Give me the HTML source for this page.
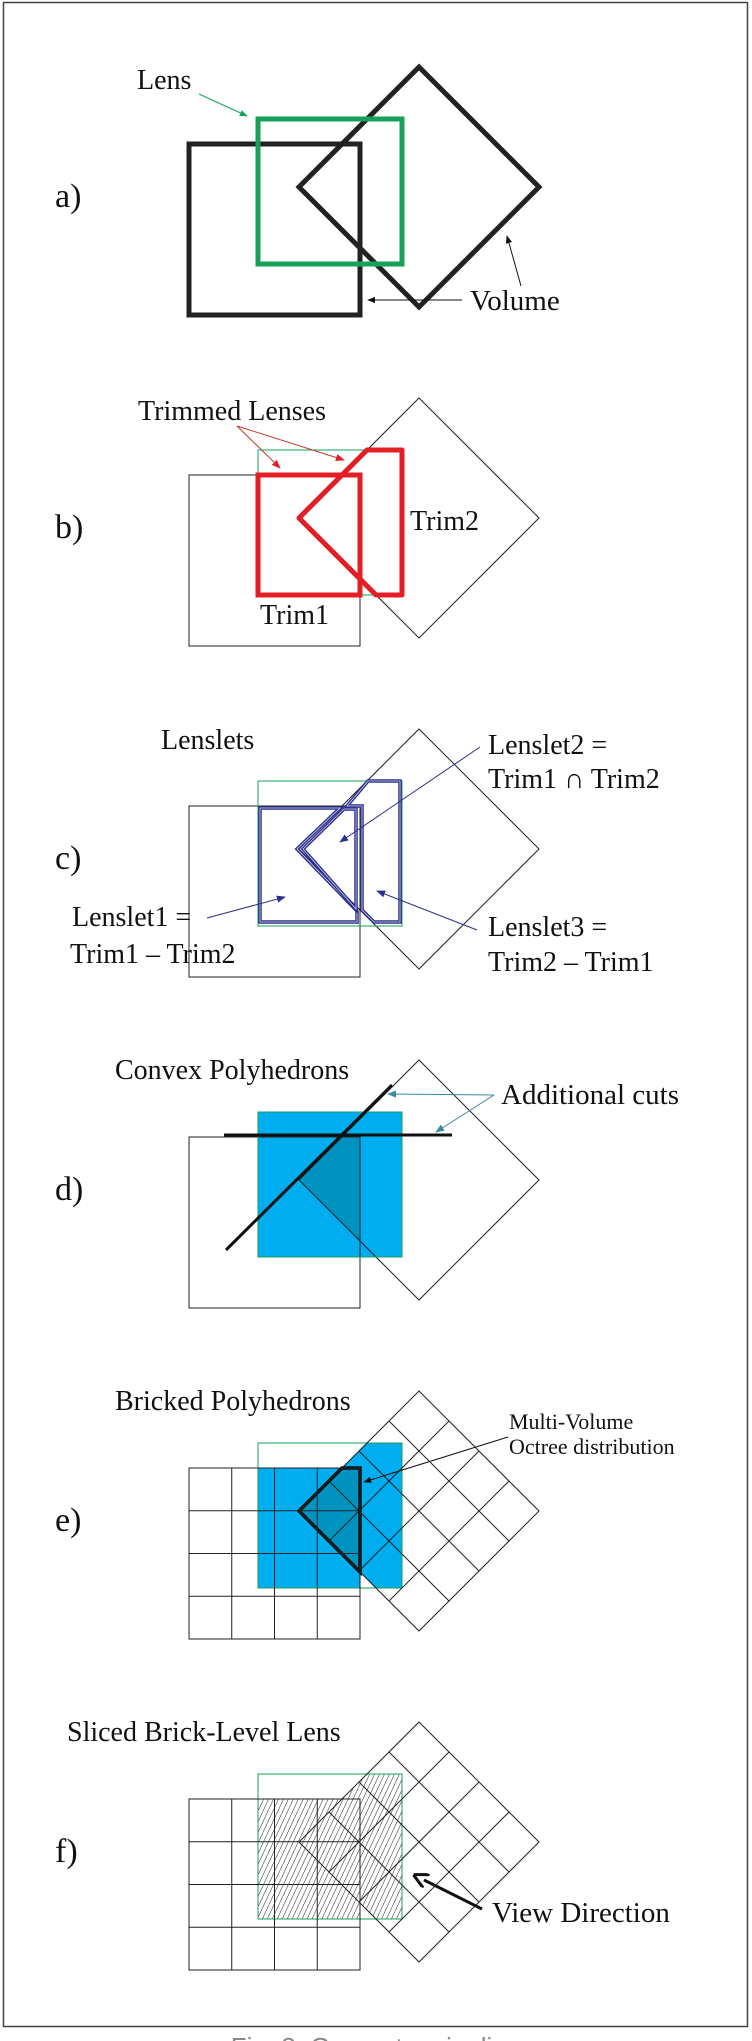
<!DOCTYPE html>
<html><head><meta charset="utf-8"><style>
html,body{margin:0;padding:0;background:#fff;}
svg{display:block;}
text{font-family:"Liberation Serif",serif;fill:#111;}
</style></head><body>
<svg id="fig" width="752" height="2041" viewBox="0 0 752 2041" xmlns="http://www.w3.org/2000/svg">
<defs>
<pattern id="hatch" patternUnits="userSpaceOnUse" width="4.5" height="10" patternTransform="rotate(25)">
<line x1="0" y1="0" x2="0" y2="10" stroke="#222" stroke-width="1"/>
</pattern>
<marker id="arrG" viewBox="0 0 10 10" refX="9" refY="5" markerWidth="8" markerHeight="8" orient="auto"><path d="M0,1L10,5L0,9z" fill="#16a05a"/></marker>
<marker id="arrK" viewBox="0 0 10 10" refX="9" refY="5" markerWidth="8" markerHeight="8" orient="auto"><path d="M0,1L10,5L0,9z" fill="#111"/></marker>
<marker id="arrR" viewBox="0 0 10 10" refX="9" refY="5" markerWidth="9" markerHeight="9" orient="auto"><path d="M0,1L10,5L0,9z" fill="#e31e24"/></marker>
<marker id="arrN" viewBox="0 0 10 10" refX="9" refY="5" markerWidth="9" markerHeight="9" orient="auto"><path d="M0,1L10,5L0,9z" fill="#2b2f8c"/></marker>
<marker id="arrT" viewBox="0 0 10 10" refX="9" refY="5" markerWidth="9" markerHeight="9" orient="auto"><path d="M0,1L10,5L0,9z" fill="#3a8aa0"/></marker>
<marker id="arrV" viewBox="0 0 10 10" refX="2" refY="5" markerWidth="5" markerHeight="5" orient="auto"><path d="M0,0L10,5L0,10" fill="none" stroke="#111" stroke-width="2"/></marker>
</defs>
<rect x="3.5" y="2.5" width="744" height="2024" fill="none" stroke="#444" stroke-width="1.5"/>
<g id="g"></g>
<text x="376" y="2056" text-anchor="middle" style="font-family:'Liberation Sans',sans-serif;font-size:26px;fill:#888">Fig. 3: Geometry pipeline</text>
</svg>
<script>
const NS='http://www.w3.org/2000/svg';
const G=document.getElementById('g');
const panelTops=[144,475,806,1137,1468,1799];
const panelLabels=['a)','b)','c)','d)','e)','f)'];
function mk(tag,attrs,parent){const e=document.createElementNS(NS,tag);for(const k in attrs)e.setAttribute(k,attrs[k]);(parent||G).appendChild(e);return e;}
function txt(s,x,y,size,name,anchor){const t=mk('text',{x:x,y:y,'font-size':size,'text-anchor':anchor||'start'});t.textContent=s;


return t;}
function geo(T){return{sq:[189,T,171,171],lens:[258,T-25,144,145],c:[419,T+43],h:120};}
function diamondPts(g){const[cx,cy]=g.c,h=g.h;return [[cx,cy-h],[cx+h,cy],[cx,cy+h],[cx-h,cy]];}
function pts(a){return a.map(p=>p.join(',')).join(' ');}
function drawSquare(g,sw,name){const e=mk('rect',{x:g.sq[0],y:g.sq[1],width:g.sq[2],height:g.sq[3],fill:'none',stroke:'#222','stroke-width':sw});

}
function drawDiamond(g,sw,name){const e=mk('polygon',{points:pts(diamondPts(g)),fill:'none',stroke:'#222','stroke-width':sw,'stroke-linejoin':'miter'});

}
function drawLens(g,sw,name){const e=mk('rect',{x:g.lens[0],y:g.lens[1],width:g.lens[2],height:g.lens[3],fill:'none',stroke:'#16a05a','stroke-width':sw});

}
function arrow(x1,y1,x2,y2,col,m,sw,name){const e=mk('line',{x1:x1,y1:y1,x2:x2,y2:y2,stroke:col,'stroke-width':sw||1,'marker-end':'url(#'+m+')'});

}
function grids(g){
 const gr=mk('g',{stroke:'#222','stroke-width':1,fill:'none'});
 
 
 const[x,y,w]=g.sq;
 for(let i=1;i<4;i++){mk('line',{x1:x+w*i/4,y1:y,x2:x+w*i/4,y2:y+w},gr);mk('line',{x1:x,y1:y+w*i/4,x2:x+w,y2:y+w*i/4},gr);}
 const[t,r,b,l]=diamondPts(g);
 const lerp=(p,q,s)=>[p[0]+(q[0]-p[0])*s,p[1]+(q[1]-p[1])*s];
 for(let i=1;i<4;i++){const s=i/4;
  let a=lerp(l,b,s),c=lerp(t,r,s);mk('line',{x1:a[0],y1:a[1],x2:c[0],y2:c[1]},gr);
  a=lerp(t,l,s);c=lerp(r,b,s);mk('line',{x1:a[0],y1:a[1],x2:c[0],y2:c[1]},gr);}
}
// labels
panelTops.forEach((T,i)=>txt(panelLabels[i],55,T+63,34,'panel-label-'+panelLabels[i][0]));

// a)
let g=geo(panelTops[0]);
drawSquare(g,5,'volume-square');drawDiamond(g,5,'volume-diamond');drawLens(g,5,'lens-box');
txt('Lens',137,89,28,'lens-label');
arrow(199,94,247,116,'#16a05a','arrG',1,'lens-arrow');
txt('Volume',470,310,29,'volume-label');
arrow(462,300,368,300,'#111','arrK',1,'volume-arrow-left');
arrow(521,286,507,236,'#111','arrK',1,'volume-arrow-up');

// b)
g=geo(panelTops[1]);
drawSquare(g,1,'volume-square-b');drawDiamond(g,1,'volume-diamond-b');drawLens(g,1,'lens-box-b');
function trim2(g){const L=g.lens,cx=g.c[0],cy=g.c[1],h=g.h,lx=cx-h;const yt=L[1],yb=L[1]+L[3],xr=L[0]+L[2];
 return [[lx+(cy-yt),yt],[xr,yt],[xr,yb],[lx+(yb-cy),yb],[lx,cy]];}
function trim1(g){const L=g.lens,S=g.sq;return [L[0],S[1],S[0]+S[2]-L[0],L[1]+L[3]-S[1]];}
let t1=trim1(g);
let e=mk('rect',{x:t1[0],y:t1[1],width:t1[2],height:t1[3],fill:'none',stroke:'#e31e24','stroke-width':5});


e=mk('polygon',{points:pts(trim2(g)),fill:'none',stroke:'#e31e24','stroke-width':5,'stroke-linejoin':'round'});


txt('Trimmed Lenses',138,420,28,'trimmed-lenses-label');
arrow(237,426,280,468,'#c0392b','arrR',1,'trimmed-arrow-1');
arrow(237,426,344,460,'#c0392b','arrR',1,'trimmed-arrow-2');
txt('Trim2',410,530,28,'trim2-label');
txt('Trim1',260,624,28,'trim1-label');

// c)
g=geo(panelTops[2]);
drawSquare(g,1,'volume-square-c');drawDiamond(g,1,'volume-diamond-c');drawLens(g,1,'lens-box-c');
const T=panelTops[2];
const lenslet1=[[260,T+2],[340,T+2],[297,T+43],[357,T+105],[357,T+116],[260,T+116]];
const lenslet2=[[344,T+3],[356,T+3],[356,T+103],[303,T+43]];
const lenslet3=[[368,T-25],[400,T-25],[400,T+116],[374,T+116],[362,T+104],[362,T],[347,T]];
[[lenslet1,'lenslet1'],[lenslet2,'lenslet2'],[lenslet3,'lenslet3']].forEach(([p,n])=>{
 e=mk('polygon',{points:pts(p),fill:'none',stroke:'#2b2f8c','stroke-width':3.5});
 
 
 e=mk('polygon',{points:pts(p),fill:'none',stroke:'#fff','stroke-width':0.8,opacity:0.8});
 
 
});
txt('Lenslets',161,749,28,'lenslets-label');
txt('Lenslet2 =',488,754,28,'lenslet2-label');
txt('Trim1 ∩ Trim2',488,788,28,'lenslet2-formula');
txt('Lenslet1 =',72,926,28,'lenslet1-label');
txt('Trim1 – Trim2',70,963,28,'lenslet1-formula');
txt('Lenslet3 =',488,936,28,'lenslet3-label');
txt('Trim2 – Trim1',488,971,28,'lenslet3-formula');
arrow(480,747,340,842,'#2b2f8c','arrN',1,'lenslet2-arrow');
arrow(207,918,285,897,'#2b2f8c','arrN',1,'lenslet1-arrow');
arrow(477,930,377,891,'#2b2f8c','arrN',1,'lenslet3-arrow');

// union clip for d/e/f
function unionClip(g,id){const cp=mk('clipPath',{id:id});mk('rect',{x:g.sq[0],y:g.sq[1],width:g.sq[2],height:g.sq[3]},cp);mk('polygon',{points:pts(diamondPts(g))},cp);}
function lensFill(g,fill,name,clip){const e=mk('rect',{x:g.lens[0],y:g.lens[1],width:g.lens[2],height:g.lens[3],fill:fill});
 if(clip)e.setAttribute('clip-path','url(#'+clip+')');
 
 }
function darkTri(g){const S=g.sq,cx=g.c[0],cy=g.c[1],lx=cx-g.h,xr=S[0]+S[2];
 return [[lx+(cy-S[1]),S[1]],[xr,S[1]],[xr,cy+(xr-lx)],[lx,cy]];}

// d)
g=geo(panelTops[3]);
lensFill(g,'#00aeef','convex-polyhedron-fill');
e=mk('polygon',{points:pts(darkTri(g)),fill:'#0093c0'});


drawSquare(g,1,'volume-square-d');drawDiamond(g,1,'volume-diamond-d');drawLens(g,1,'lens-box-d');
e=mk('line',{x1:224,y1:1135,x2:452,y2:1135,stroke:'#111','stroke-width':3});


e=mk('line',{x1:226,y1:1250,x2:392,y2:1085,stroke:'#111','stroke-width':3});


txt('Convex Polyhedrons',115,1079,28,'convex-polyhedrons-label');
txt('Additional cuts',501,1104,29,'additional-cuts-label');
arrow(494,1095,388,1094,'#3a8aa0','arrT',1,'cut-arrow-1');
arrow(494,1095,436,1132,'#3a8aa0','arrT',1,'cut-arrow-2');

// e)
g=geo(panelTops[4]);
unionClip(g,'ue');
lensFill(g,'#00aeef','bricked-polyhedron-fill','ue');
e=mk('polygon',{points:pts(darkTri(g)),fill:'#0093c0',stroke:'#111','stroke-width':3.5});


drawLens(g,1,'lens-box-e');
drawSquare(g,1,'volume-square-e');drawDiamond(g,1,'volume-diamond-e');grids(g);
txt('Bricked Polyhedrons',115,1410,28,'bricked-polyhedrons-label');
txt('Multi-Volume',509,1429,22,'multi-volume-label');
txt('Octree distribution',509,1454,22,'octree-distribution-label');
arrow(508,1437,364,1482,'#111','arrK',1,'octree-arrow');

// f)
g=geo(panelTops[5]);
unionClip(g,'uf');
lensFill(g,'url(#hatch)','sliced-lens-hatch','uf');
drawLens(g,1,'lens-box-f');
drawSquare(g,1,'volume-square-f');drawDiamond(g,1,'volume-diamond-f');grids(g);
txt('Sliced Brick-Level Lens',67,1741,28,'sliced-lens-label');
txt('View Direction',492,1922,29,'view-direction-label');
e=mk('line',{x1:482,y1:1909,x2:424,y2:1880,stroke:'#111','stroke-width':3,'marker-end':'url(#arrV)'});


</script>
</body></html>
